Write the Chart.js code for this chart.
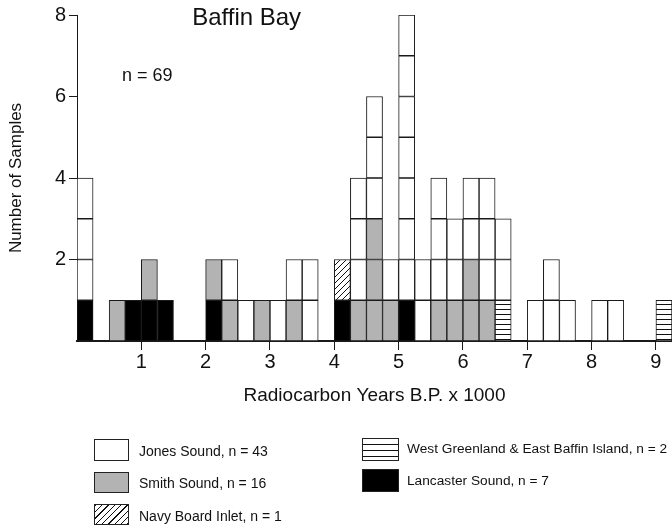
<!DOCTYPE html>
<html lang="en">
<head>
    <meta charset="UTF-8">
    <title>Baffin Bay</title>
    <script src="https://cdn.jsdelivr.net/npm/chart.js@4.4.0/dist/chart.umd.min.js"></script>
    <style>
        * { margin: 0; padding: 0; box-sizing: border-box; }
        body { background: #fff; font-family: 'Liberation Sans', Arial, sans-serif; }
        .wrap { position: relative; width: 672px; height: 531px; overflow: hidden; }
        .key { position: absolute; border: 1px solid #222; }
        .key-label { position: absolute; font-size: 14px; color: #111; line-height: 22px; white-space: nowrap; }
        .jones { background: #fff; }
        .smith { background: #b3b3b3; }
        .navy { background: repeating-linear-gradient(135deg, #111 0 1px, #fff 1px 4.5px); }
        .wgreen { background: repeating-linear-gradient(180deg, #fff 0 5px, #111 5px 6px); }
        .lancaster { background: #000; }
    </style>
</head>
<body>
    <div class="wrap">
        <canvas id="chart" width="672" height="531"></canvas>

        <div class="key jones" style="left:94px; top:439px; width:35px; height:22px;"></div>
        <div class="key-label" style="left:139px; top:440px;">Jones Sound, n = 43</div>
        <div class="key smith" style="left:94px; top:472px; width:35px; height:21px;"></div>
        <div class="key-label" style="left:139px; top:472px;">Smith Sound, n = 16</div>
        <div class="key navy" style="left:94px; top:504px; width:35px; height:21px;"></div>
        <div class="key-label" style="left:139px; top:505px;">Navy Board Inlet, n = 1</div>

        <div class="key wgreen" style="left:362px; top:438px; width:37px; height:23px;"></div>
        <div class="key-label" style="left:407px; top:438px; font-size:13.7px;">West Greenland &amp; East Baffin Island, n = 2</div>
        <div class="key lancaster" style="left:362px; top:469px; width:37px; height:23px;"></div>
        <div class="key-label" style="left:407px; top:470px; font-size:13.7px;">Lancaster Sound, n = 7</div>
    </div>

    <script>
        // bins of 250 years (left edge, x1000 yr BP)
        const binStarts = [0, 0.25, 0.5, 0.75, 1, 1.25, 1.5, 1.75, 2, 2.25, 2.5, 2.75,
                           3, 3.25, 3.5, 3.75, 4, 4.25, 4.5, 4.75, 5, 5.25, 5.5, 5.75,
                           6, 6.25, 6.5, 6.75, 7, 7.25, 7.5, 7.75, 8, 8.25, 8.5, 8.75, 9];
        const binWidth = 0.25;

        // samples per bin for each region
        const jones         = [3,0,0,0,0,0,0,0,0,1,1,0,1,1,2,0,0,3,3,1,7,2,3,2,2,3,2,0,1,2,1,0,1,1,0,0,0];
        const smith         = [0,0,1,0,1,0,0,0,1,1,0,1,0,1,0,0,0,1,3,1,0,0,1,1,2,1,0,0,0,0,0,0,0,0,0,0,0];
        const navy          = [0,0,0,0,0,0,0,0,0,0,0,0,0,0,0,0,1,0,0,0,0,0,0,0,0,0,0,0,0,0,0,0,0,0,0,0,0];
        const westGreenland = [0,0,0,0,0,0,0,0,0,0,0,0,0,0,0,0,0,0,0,0,0,0,0,0,0,0,1,0,0,0,0,0,0,0,0,0,1];
        const lancaster     = [1,0,0,1,1,1,0,0,1,0,0,0,0,0,0,0,1,0,0,0,1,0,0,0,0,0,0,0,0,0,0,0,0,0,0,0,0];

        const xTicks = [1, 2, 3, 4, 5, 6, 7, 8, 9];
        const yTicks = [2, 4, 6, 8];

        const fontFamily = "'Liberation Sans', Arial, sans-serif";
        const ink = '#1a1a1a';

        // hatch fills
        function diagonalHatch() {
            const c = document.createElement('canvas');
            c.width = 6; c.height = 6;
            const g = c.getContext('2d');
            g.fillStyle = '#fff'; g.fillRect(0, 0, 6, 6);
            g.strokeStyle = '#111'; g.lineWidth = 1;
            g.beginPath();
            g.moveTo(0, 6); g.lineTo(6, 0);
            g.moveTo(-1, 1); g.lineTo(1, -1);
            g.moveTo(5, 7); g.lineTo(7, 5);
            g.stroke();
            return g.createPattern(c, 'repeat');
        }
        function horizontalHatch() {
            const c = document.createElement('canvas');
            c.width = 6; c.height = 5;
            const g = c.getContext('2d');
            g.fillStyle = '#fff'; g.fillRect(0, 0, 6, 5);
            g.fillStyle = '#111'; g.fillRect(0, 4, 6, 1);
            return g.createPattern(c, 'repeat');
        }

        // one dataset per row of cells so every sample gets its own box
        function layers(counts, fill) {
            const out = [];
            const top = Math.max(...counts);
            for (let k = 0; k < top; k++) {
                out.push({
                    data: binStarts.map((b, i) => ({ x: b + binWidth / 2, y: counts[i] > k ? 1 : null })),
                    backgroundColor: fill,
                    borderColor: ink,
                    borderWidth: 1,
                    borderSkipped: false,
                    categoryPercentage: 1,
                    barPercentage: 1
                });
            }
            return out;
        }

        const datasets = [].concat(
            layers(lancaster, '#000'),
            layers(westGreenland, horizontalHatch()),
            layers(smith, '#b3b3b3'),
            layers(navy, diagonalHatch()),
            layers(jones, '#fff')
        );

        const labelsPlugin = {
            id: 'labelsPlugin',
            afterDraw(chart) {
                const { ctx, scales: { x, y } } = chart;
                ctx.save();
                ctx.fillStyle = '#111';
                ctx.textAlign = 'left';
                ctx.textBaseline = 'alphabetic';
                ctx.font = '24px ' + fontFamily;
                ctx.fillText('Baffin Bay', x.getPixelForValue(1.79), y.getPixelForValue(7.75));
                ctx.font = '18px ' + fontFamily;
                ctx.fillText('n = 69', x.getPixelForValue(0.70), y.getPixelForValue(6.37));
                ctx.restore();
            }
        };

        new Chart(document.getElementById('chart'), {
            type: 'bar',
            data: { datasets: datasets },
            plugins: [labelsPlugin],
            options: {
                responsive: false,
                animation: false,
                events: [],
                layout: { padding: { top: 15, bottom: 120, left: 0, right: 0 } },
                plugins: { legend: { display: false }, tooltip: { enabled: false } },
                scales: {
                    x: {
                        type: 'linear',
                        min: 0,
                        max: 9.25,
                        offset: false,
                        stacked: true,
                        afterBuildTicks: s => { s.ticks = xTicks.map(v => ({ value: v })); },
                        afterFit: s => { s.height = 70; },
                        grid: { drawOnChartArea: false, drawTicks: true, tickLength: 9, color: ink, offset: false },
                        border: { color: ink, width: 2 },
                        ticks: { padding: 0, color: '#111', font: { family: fontFamily, size: 20 }, maxRotation: 0 },
                        title: {
                            display: true,
                            text: 'Radiocarbon Years B.P. x 1000',
                            color: '#111',
                            font: { family: fontFamily, size: 19 },
                            padding: { top: 8, bottom: 4 }
                        }
                    },
                    y: {
                        min: 0,
                        max: 8,
                        stacked: true,
                        afterBuildTicks: s => { s.ticks = yTicks.map(v => ({ value: v })); },
                        afterFit: s => { s.width = 77; },
                        grid: { drawOnChartArea: false, drawTicks: true, tickLength: 8, color: ink },
                        border: { color: ink, width: 1 },
                        ticks: { padding: 3, color: '#111', font: { family: fontFamily, size: 20 } },
                        title: {
                            display: true,
                            text: 'Number of Samples',
                            color: '#111',
                            font: { family: fontFamily, size: 17 },
                            padding: { top: 6, bottom: 4 }
                        }
                    }
                }
            }
        });
    </script>
</body>
</html>
